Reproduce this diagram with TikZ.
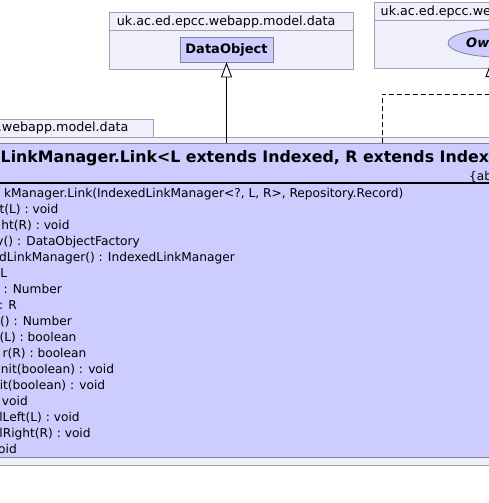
\documentclass[tikz,border=0pt]{standalone}
\usepackage{fontspec}
\setmainfont{DejaVu Sans}
\usetikzlibrary{arrows.meta,shapes.geometric}
\definecolor{pkgfill}{RGB}{240,240,252}
\definecolor{pkgdraw}{RGB}{160,160,176}
\definecolor{clsfill}{RGB}{204,204,255}
\definecolor{clsdraw}{RGB}{128,128,150}
\begin{document}
\begin{tikzpicture}[x=1pt,y=-1pt,
  pkg/.style={draw=pkgdraw, fill=pkgfill, line width=0.8pt},
  cls/.style={draw=clsdraw, fill=clsfill, line width=0.8pt},
  lbl/.style={inner sep=0pt, font=\fontsize{12.7}{14}\selectfont},
  member/.style={inner sep=0pt, anchor=base east, font=\fontsize{12.2}{14}\selectfont},
  memberc/.style={inner sep=0pt, anchor=base, font=\fontsize{12.2}{14}\selectfont},
  gen/.style={draw=black, line width=0.9pt, -{Triangle[open, fill=white, length=15pt, width=11pt]}},
  real/.style={draw=black, line width=0.9pt, dash pattern=on 5pt off 3pt, -{Triangle[open, fill=white, length=15pt, width=11pt]}}
]
\useasboundingbox (0,0) rectangle (489,503);
\fill[white] (0,0) rectangle (489,503);
% package 1
\draw[pkg] (109,12) rectangle (353,69);
\draw[pkgdraw, line width=0.8pt] (109,30) -- (353,30);
\node[lbl, anchor=base west] (pkgAlbl) at (116.7,26) {uk.ac.ed.epcc.webapp.model.data};
% package 2
\draw[pkg] (374,2) rectangle (500,68);
\draw[pkgdraw, line width=0.8pt] (374,20) -- (500,20);
\node[lbl, anchor=base west] (pkgBlbl) at (380.5,16) {uk.ac.ed.epcc.webapp.model.data};
% package 3
\draw[pkg] (-10,137) rectangle (500,465);
\draw[pkg] (-10,119) rectangle (153,137);
\node[lbl, anchor=base east] (pkgClbl) at (128.5,131.5) {uk.ac.ed.epcc.webapp.model.data};
% DataObject
\node[cls, minimum width=93pt, minimum height=25pt, inner sep=0pt,
      font=\bfseries\fontsize{13}{15}\selectfont] (dobj) at (226.5,49.5) {DataObject};
% interface ellipse
\node[cls, ellipse, minimum width=100pt, minimum height=28pt, inner sep=0pt] (owi) at (498,43) {};
\node[inner sep=0pt, anchor=base west, font=\bfseries\itshape\fontsize{13}{15}\selectfont] (owt) at (466,48) {Owned};
% main class
\node[cls, anchor=north west, minimum width=510pt, minimum height=314pt, inner sep=0pt] (link) at (-10,143) {};
\node[inner sep=0pt, anchor=base west, font=\bfseries\fontsize{15.8}{18}\selectfont] (lname) at (0.5,162)
  {LinkManager.Link<L extends Indexed, R extends Indexed>};
\node[inner sep=0pt, anchor=base west, font=\fontsize{12.1}{14}\selectfont] (labs) at (469,180) {\{abstract\}};
\draw[line width=2pt] (link.west |- 0,183) -- (link.east |- 0,183);
% members
\node[memberc] (m1) at (203.75,197) {kManager.Link(IndexedLinkManager<?, L, R>, Repository.Record)};
\node[memberc] (m2) at (29,213) {t(L) : void};
\node[memberc] (m3) at (35.5,229) {ht(R) : void};
\node[member] (m4) at (140,245) {y() : DataObjectFactory};
\node[memberc] (m5) at (117,261) {dLinkManager() : IndexedLinkManager};
\node[member] (m6) at (7.5,277) {: L};
\node[member] (m7) at (62,293) {: Number};
\node[member] (m8) at (17,309) {: R};
\node[memberc] (m9) at (36,325) {() : Number};
\node[memberc] (m10) at (38,341) {(L) : boolean};
\node[memberc] (m11) at (44.5,357) {r(R) : boolean};
\node[memberc] (m12) at (57.5,373) {nit(boolean) : void};
\node[memberc] (m13) at (52.5,389) {it(boolean) : void};
\node[member] (m14) at (28,405) {: void};
\node[memberc] (m15) at (39.5,421) {lLeft(L) : void};
\node[memberc] (m16) at (45,437) {lRight(R) : void};
\node[member] (m17) at (17,453) {void};
% connectors
\draw[gen] (link.north -| dobj.south) -- (dobj.south);
\coordinate (rA) at (382,94);
\coordinate (rB) at (491,94);
\coordinate (rtip) at (491,62);
\draw[real] (link.north -| rA) -- (rA) -- (rB) -- (rtip);
\end{tikzpicture}
\end{document}
